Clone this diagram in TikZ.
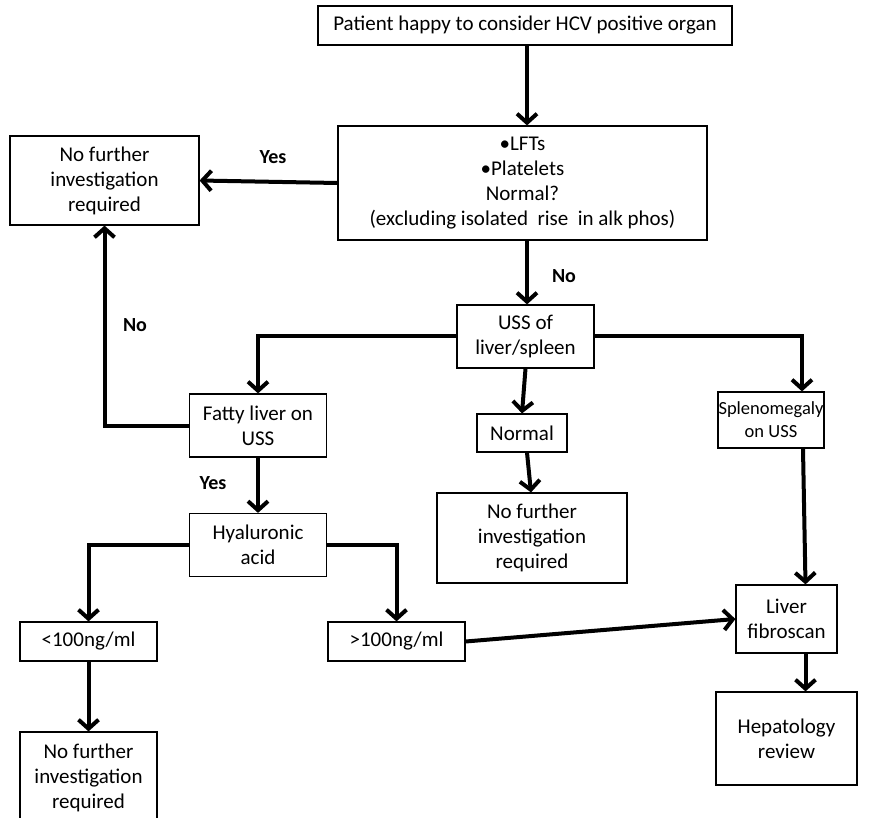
\documentclass[tikz,border=0pt]{standalone}
\usepackage{fontspec}
\setmainfont{Carlito}
\usetikzlibrary{arrows.meta,calc}
\begin{document}
\begin{tikzpicture}[x=1pt,y=-1pt,
  box/.style={draw=black,line width=1.2pt,rectangle,align=center,inner sep=0pt,
    font=\fontsize{21}{25}\selectfont},
  conn/.style={line width=4pt,-{Straight Barb[length=9pt,width=20pt,line width=4pt]}},
  lab/.style={font=\fontsize{20}{25}\selectfont\bfseries}]
\clip (0,0) rectangle (884,818);
\fill[white] (0,0) rectangle (884,818);
\node[box,minimum width=414pt,minimum height=39pt] (top) at (525,25.5) {Patient happy to consider HCV positive organ};
\node[box,minimum width=369pt,minimum height=114pt] (lft) at (522.5,183) {•LFTs\\•Platelets\\Normal?\\(excluding isolated\ \ rise\ \ in alk phos)};
\node[box,minimum width=189pt,minimum height=89pt] (nfa) at (104.5,180.5) {No further\\investigation\\required};
\node[box,minimum width=137pt,minimum height=63pt] (uss) at (525.5,336.5) {USS of\\liver/spleen};
\node[box,minimum width=90pt,minimum height=38pt] (nor) at (522,433) {Normal};
\node[box,minimum width=190pt,minimum height=90pt] (nfb) at (532,538) {No further\\investigation\\required};
\node[box,minimum width=137pt,minimum height=63pt] (fat) at (258,425.5) {Fatty liver on\\USS};
\node[box,minimum width=137pt,minimum height=63pt] (hya) at (258,545) {Hyaluronic\\acid};
\node[box,minimum width=137pt,minimum height=39pt] (lt) at (88.5,641.5) {<100ng/ml};
\node[box,minimum width=137pt,minimum height=39pt] (gt) at (396.5,641.5) {>100ng/ml};
\node[box,minimum width=137pt,minimum height=110pt] (nfc) at (88.5,787) {};
\node[font=\fontsize{21}{25}\selectfont,align=center] (nfct) at (88.5,778) {No further\\investigation\\required};
\node[box,minimum width=106pt,minimum height=56pt,font=\fontsize{18.5}{23}\selectfont] (spl) at (771,420) {Splenomegaly\\on USS};
\node[box,minimum width=101pt,minimum height=68pt] (liv) at (786.5,619) {Liver\\fibroscan};
\node[box,minimum width=141pt,minimum height=93pt] (hep) at (786.5,738.5) {Hepatology\\review};
% connectors
\draw[conn] ($(top.south)+(2,0)$) -- ($(lft.north)+(4.5,0)$);
\draw[conn] (lft.west) -- (nfa.east);
\draw[conn] ($(lft.south)+(4.5,0)$) -- ($(uss.north)+(1.5,0)$);
\draw[conn] (uss.south) -- (nor.north);
\draw[conn] ($(nor.south)+(5,0)$) -- ($(nfb.north)+(-1,0)$);
\draw[conn] (uss.west) -| (fat.north);
\draw[conn] (uss.east) -| ($(spl.north)+(31,0)$);
\draw[conn] (fat.west) -| (nfa.south);
\draw[conn] (fat.south) -- (hya.north);
\draw[conn] (hya.west) -| (lt.north);
\draw[conn] (hya.east) -| (gt.north);
\draw[conn] (lt.south) -- (nfc.north);
\draw[conn] (gt.east) -- (liv.west);
\draw[conn] ($(spl.south)+(32,0)$) -- ($(liv.north)+(19,0)$);
\draw[conn] ($(liv.south)+(19,0)$) -- ($(hep.north)+(19,0)$);
% labels
\node[lab] (ly1) at (273,157) {Yes};
\node[lab] (ln1) at (564,276) {No};
\node[lab] (ln2) at (135,325) {No};
\node[lab] (ly2) at (213,483) {Yes};
\end{tikzpicture}
\end{document}
